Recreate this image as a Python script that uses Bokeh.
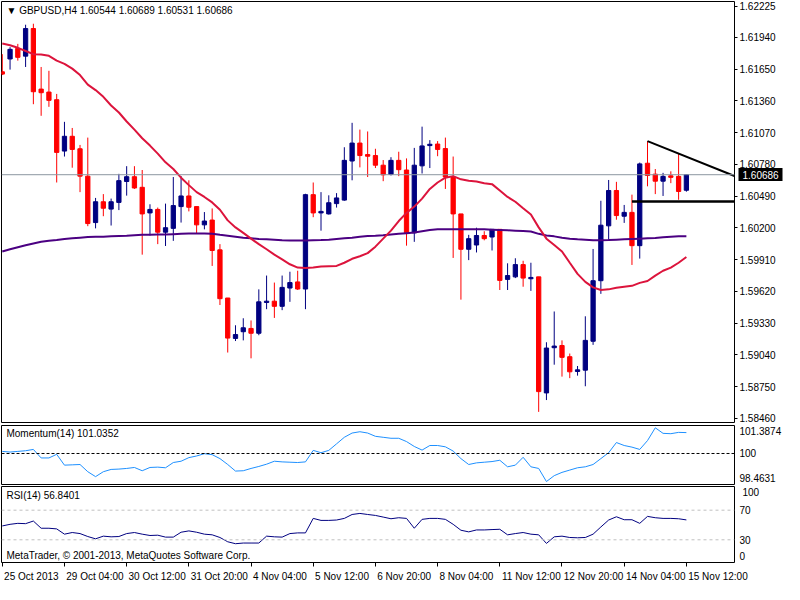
from bokeh.plotting import figure
from bokeh.layouts import column
from bokeh.models import (Range1d, FixedTicker, Label, Span, ColumnDataSource, NumeralTickFormatter,
                          LinearAxis, AllLabels)
from bokeh.embed import file_html
from bokeh.resources import INLINE

# ---------------- data (GBPUSD H4) ----------------
bar_index = list(range(89))
open_ = [1.61626, 1.61743, 1.61840, 1.61769, 1.62021, 1.61468, 1.61441, 1.61371, 1.60902, 1.61037,
         1.60923, 1.60673, 1.60249, 1.60439, 1.60372, 1.60433, 1.60624, 1.60668, 1.60571, 1.60337,
         1.60369, 1.60161, 1.60196, 1.60395, 1.60492, 1.60395, 1.60228, 1.60272, 1.60000, 1.59560,
         1.59191, 1.59252, 1.59282, 1.59238, 1.59519, 1.59531, 1.59484, 1.59651, 1.59707, 1.59642,
         1.60504, 1.60337, 1.60328, 1.60422, 1.60454, 1.60811, 1.60975, 1.60870, 1.60861, 1.60773,
         1.60688, 1.60817, 1.60729, 1.60155, 1.60767, 1.60952, 1.60966, 1.60925, 1.60665, 1.60328,
         1.60005, 1.60044, 1.60131, 1.60117, 1.60187, 1.59730, 1.59753, 1.59865, 1.59736, 1.59753,
         1.58693, 1.59106, 1.59126, 1.59024, 1.58889, 1.58901, 1.59165, 1.59718, 1.60219, 1.60542,
         1.60307, 1.60342, 1.60038, 1.60791, 1.60691, 1.60627, 1.60676, 1.60671, 1.60544]
high = [1.61787, 1.61851, 1.61881, 1.62056, 1.62065, 1.61670, 1.61635, 1.61424, 1.61169, 1.61113,
        1.60958, 1.61025, 1.60474, 1.60509, 1.60468, 1.60694, 1.60764, 1.60764, 1.60729, 1.60416,
        1.60386, 1.60422, 1.60665, 1.60673, 1.60635, 1.60395, 1.60345, 1.60378, 1.60052, 1.59560,
        1.59311, 1.59375, 1.59355, 1.59639, 1.59765, 1.59701, 1.59765, 1.59800, 1.59809, 1.60512,
        1.60615, 1.60527, 1.60498, 1.60518, 1.60937, 1.61160, 1.61098, 1.61081, 1.60923, 1.60820,
        1.60846, 1.60896, 1.60835, 1.60931, 1.61125, 1.61002, 1.60993, 1.61025, 1.60852, 1.60328,
        1.60137, 1.60202, 1.60170, 1.60187, 1.60187, 1.59877, 1.59923, 1.59900, 1.59882, 1.59753,
        1.59156, 1.59437, 1.59173, 1.59053, 1.58939, 1.59393, 1.60008, 1.60448, 1.60638, 1.60621,
        1.60410, 1.60504, 1.60797, 1.60993, 1.60738, 1.60703, 1.60717, 1.60879, 1.60689]
low = [1.61596, 1.61646, 1.61728, 1.61670, 1.61330, 1.61224, 1.61306, 1.60615, 1.60852, 1.60750,
       1.60527, 1.60216, 1.60196, 1.60307, 1.60222, 1.60363, 1.60495, 1.60556, 1.59956, 1.60131,
       1.60052, 1.60035, 1.60082, 1.60249, 1.60351, 1.60152, 1.60187, 1.59853, 1.59496, 1.59062,
       1.59167, 1.59173, 1.59009, 1.59220, 1.59458, 1.59378, 1.59449, 1.59525, 1.59633, 1.59458,
       1.60298, 1.60175, 1.60322, 1.60386, 1.60448, 1.60635, 1.60753, 1.60665, 1.60747, 1.60627,
       1.60679, 1.60673, 1.60038, 1.60073, 1.60697, 1.60747, 1.60855, 1.60556, 1.59926, 1.59545,
       1.59906, 1.59976, 1.60087, 1.59994, 1.59633, 1.59633, 1.59742, 1.59663, 1.59625, 1.58520,
       1.58628, 1.58951, 1.58842, 1.58828, 1.58851, 1.58754, 1.59132, 1.59598, 1.60093, 1.60275,
       1.60246, 1.59862, 1.59920, 1.60580, 1.60509, 1.60492, 1.60609, 1.60457, 1.60531]
close = [1.61605, 1.61831, 1.61758, 1.62021, 1.61444, 1.61435, 1.61365, 1.60890, 1.61037, 1.60917,
         1.60673, 1.60240, 1.60439, 1.60380, 1.60439, 1.60632, 1.60668, 1.60565, 1.60328, 1.60369,
         1.60161, 1.60202, 1.60404, 1.60492, 1.60389, 1.60228, 1.60263, 1.59994, 1.59554, 1.59194,
         1.59226, 1.59288, 1.59238, 1.59525, 1.59531, 1.59484, 1.59657, 1.59701, 1.59642, 1.60504,
         1.60337, 1.60351, 1.60430, 1.60474, 1.60817, 1.60975, 1.60861, 1.60855, 1.60773, 1.60685,
         1.60817, 1.60732, 1.60155, 1.60773, 1.60949, 1.60964, 1.60917, 1.60665, 1.60328, 1.60005,
         1.60102, 1.60131, 1.60102, 1.60187, 1.59721, 1.59765, 1.59865, 1.59742, 1.59748, 1.58705,
         1.59103, 1.59121, 1.59018, 1.58886, 1.58904, 1.59173, 1.59718, 1.60225, 1.60542, 1.60313,
         1.60342, 1.60038, 1.60785, 1.60679, 1.60627, 1.60671, 1.60662, 1.60533, 1.60686]
ma_fast = [1.61884, 1.61869, 1.61845, 1.61816, 1.61787, 1.61784, 1.61772, 1.61728, 1.61699, 1.61655,
           1.61596, 1.61509, 1.61459, 1.61397, 1.61318, 1.61254, 1.61172, 1.61098, 1.61019, 1.60952,
           1.60879, 1.60799, 1.60738, 1.60659, 1.60591, 1.60527, 1.60483, 1.60433, 1.60366, 1.60269,
           1.60205, 1.60155, 1.60102, 1.60052, 1.60005, 1.59956, 1.59912, 1.59868, 1.59838, 1.59835,
           1.59838, 1.59847, 1.59850, 1.59853, 1.59882, 1.59918, 1.59941, 1.59970, 1.60029, 1.60102,
           1.60175, 1.60263, 1.60337, 1.60395, 1.60468, 1.60556, 1.60615, 1.60659, 1.60673, 1.60644,
           1.60630, 1.60624, 1.60609, 1.60600, 1.60542, 1.60483, 1.60439, 1.60380, 1.60322, 1.60205,
           1.60102, 1.60044, 1.59985, 1.59882, 1.59780, 1.59707, 1.59657, 1.59633, 1.59639, 1.59654,
           1.59663, 1.59671, 1.59698, 1.59715, 1.59765, 1.59809, 1.59838, 1.59882, 1.59935]
ma_slow = [1.59985, 1.60005, 1.60023, 1.60041, 1.60058, 1.60073, 1.60082, 1.60090, 1.60099, 1.60105,
           1.60111, 1.60117, 1.60120, 1.60120, 1.60123, 1.60126, 1.60129, 1.60134, 1.60137, 1.60137,
           1.60140, 1.60140, 1.60143, 1.60146, 1.60149, 1.60149, 1.60149, 1.60146, 1.60137, 1.60129,
           1.60120, 1.60111, 1.60105, 1.60099, 1.60096, 1.60093, 1.60088, 1.60085, 1.60085, 1.60085,
           1.60088, 1.60090, 1.60093, 1.60099, 1.60105, 1.60111, 1.60120, 1.60126, 1.60129, 1.60134,
           1.60140, 1.60146, 1.60152, 1.60158, 1.60170, 1.60181, 1.60187, 1.60187, 1.60187, 1.60187,
           1.60187, 1.60187, 1.60187, 1.60184, 1.60181, 1.60178, 1.60175, 1.60172, 1.60167, 1.60146,
           1.60131, 1.60123, 1.60111, 1.60102, 1.60096, 1.60093, 1.60088, 1.60088, 1.60090, 1.60093,
           1.60096, 1.60099, 1.60102, 1.60105, 1.60108, 1.60114, 1.60120, 1.60123, 1.60123]
momentum = [100.104, 100.072, 100.104, 100.136, 100.201, 99.779, 99.779, 99.958, 99.422, 99.438,
            99.454, 99.097, 98.853, 99.097, 99.210, 99.227, 99.259, 99.308, 99.145, 99.308,
            99.324, 99.292, 99.552, 99.617, 99.795, 99.877, 99.990, 99.942, 99.747, 99.454,
            99.129, 99.145, 99.259, 99.357, 99.470, 99.617, 99.584, 99.568, 99.552, 99.584,
            100.153, 100.039, 100.153, 100.478, 100.803, 101.014, 101.079, 101.014, 100.851, 100.803,
            100.754, 100.754, 100.591, 100.348, 100.169, 100.396, 100.396, 100.331, 100.120, 99.747,
            99.454, 99.535, 99.568, 99.600, 99.665, 99.340, 99.422, 99.812, 99.340, 99.259,
            98.609, 98.902, 99.064, 99.178, 99.292, 99.340, 99.454, 99.747, 100.039, 100.543,
            100.396, 100.315, 100.201, 100.640, 101.274, 100.998, 100.981, 101.046, 101.0352]
rsi = [48.7, 50.9, 52.2, 51.8, 55.3, 45.6, 45.6, 44.7, 37.6, 39.8,
       38.4, 34.4, 31.3, 34.9, 34.0, 34.4, 38.4, 39.8, 37.6, 35.8,
       36.2, 33.6, 33.6, 40.2, 42.0, 40.2, 37.6, 36.7, 33.1, 27.3,
       24.7, 25.6, 25.6, 25.6, 34.9, 34.0, 33.6, 38.4, 39.3, 39.3,
       58.9, 56.2, 56.2, 56.7, 58.9, 64.2, 65.6, 64.2, 62.9, 60.7,
       58.4, 59.8, 58.9, 45.6, 57.6, 58.9, 58.9, 57.6, 50.9, 42.9,
       40.7, 43.3, 43.3, 43.8, 44.2, 36.7, 38.4, 39.8, 37.6, 36.7,
       25.1, 34.0, 34.9, 33.1, 32.7, 33.1, 37.6, 47.3, 56.7, 61.1,
       57.1, 57.1, 52.2, 61.6, 59.8, 58.9, 58.9, 58.4, 56.8401]

price_ticks = [1.62225, 1.61940, 1.61650, 1.61360, 1.61070, 1.60780, 1.60490, 1.60200,
               1.59910, 1.59620, 1.59330, 1.59040, 1.58750, 1.58460]
time_ticks = [0, 8, 16, 24, 32, 40, 48, 56, 64, 72, 80, 88]
time_labels = ["25 Oct 2013", "29 Oct 04:00", "30 Oct 12:00", "31 Oct 20:00", "4 Nov 04:00",
               "5 Nov 12:00", "6 Nov 20:00", "8 Nov 04:00", "11 Nov 12:00", "12 Nov 20:00",
               "14 Nov 04:00", "15 Nov 12:00"]
# drawn objects: descending trend line and horizontal support
trend_x = [83, 94.19]
trend_y = [1.60993, 1.60674]
support_x = [81, 94.19]
support_y = [1.60442, 1.60442]
mom_range = (98.4631, 101.3874)
rsi_levels = [30, 70]
rsi_bounds = (0, 100)

# ---------------- layout ----------------
FONT = "Liberation Sans"
FSIZE = 10
FS = "%dpx" % FSIZE
W = 784
RB = 46
X0, X1 = -0.1, 94.19
FW = W - 1 - RB
xr = Range1d(X0, X1)
dxpx = (X1 - X0) / FW

BULL = "#000080"
BEAR = "#FF0000"

# Arial-like advance widths (per 1000 em) used to left-align the time labels
CHAR_W = {" ": 278, ":": 278, ".": 278, "O": 778, "c": 500, "t": 278, "N": 722, "o": 556, "v": 500}


def text_px(s):
    return sum(CHAR_W.get(ch, 556) for ch in s) / 1000.0 * FSIZE


def base_fig(height, yr, top, bottom, xaxis=False):
    p = figure(width=W, height=height, x_range=xr, y_range=yr, output_backend="svg",
               toolbar_location=None, x_axis_location="below" if xaxis else None,
               y_axis_location="right", min_border_left=1, min_border_right=RB,
               min_border_top=top, min_border_bottom=bottom)
    p.background_fill_color = "white"
    p.border_fill_color = "white"
    p.outline_line_color = "black"
    p.outline_line_width = 1
    p.xgrid.grid_line_color = None
    p.ygrid.grid_line_color = None
    p.yaxis.axis_line_color = None
    p.yaxis.minor_tick_line_color = None
    p.yaxis.major_label_text_font = FONT
    p.yaxis.major_label_text_font_size = FS
    p.yaxis.major_label_text_color = "black"
    p.yaxis.major_label_policy = AllLabels()
    return p


def overlay_axis(tick, text, color, first_axis_w, lead, tick_in=0, tick_out=0, tick_w=1):
    """Extra right axis carrying one label, pulled back so it sits next to the frame."""
    ax = LinearAxis(ticker=FixedTicker(ticks=[tick]))
    ax.major_label_overrides = {tick: text}
    ax.axis_line_color = None
    ax.minor_tick_line_color = None
    ax.minor_tick_in = 0
    ax.minor_tick_out = 0
    ax.major_tick_in = tick_in
    ax.major_tick_out = tick_out
    ax.major_tick_line_width = tick_w
    ax.major_tick_line_color = "black" if tick_in or tick_out else None
    ax.major_label_standoff = -int(round(first_axis_w)) + lead - tick_out
    ax.major_label_text_color = color
    ax.major_label_text_font = FONT
    ax.major_label_text_font_size = FS
    ax.major_label_policy = AllLabels()
    return ax


# ---- main price panel
H1 = 424
yr1 = Range1d(1.58423, 1.62268)
p1 = base_fig(H1, yr1, 1, 2)
fh1 = H1 - 3
dypx1 = (yr1.end - yr1.start) / fh1
p1.yaxis.ticker = FixedTicker(ticks=price_ticks)
p1.yaxis.formatter = NumeralTickFormatter(format="0.00000")
p1.yaxis.major_tick_out = 3
p1.yaxis.major_tick_in = 0
p1.yaxis.major_tick_line_color = "black"
p1.yaxis.major_label_standoff = 2

colors = [BULL if c >= o else BEAR for o, c in zip(open_, close)]
src = ColumnDataSource(dict(x=bar_index, o=open_, h=high, l=low, c=close,
                            top=[max(o, c) for o, c in zip(open_, close)],
                            bot=[min(o, c) for o, c in zip(open_, close)],
                            col=colors))
p1.add_layout(Span(location=close[-1], dimension="width", line_color="#8C96A0", line_width=1))
p1.segment(x0="x", y0="l", x1="x", y1="h", line_color="col", line_width=1, source=src)
p1.vbar(x="x", width=0.55, top="top", bottom="bot", fill_color="col", line_color="col",
        line_width=1, source=src)
p1.line(bar_index, ma_slow, line_color="#4B0082", line_width=2)
p1.line(bar_index, ma_fast, line_color="#DC143C", line_width=2)
p1.line(trend_x, trend_y, line_color="black", line_width=2)
p1.line(support_x, support_y, line_color="black", line_width=2.5)

p1.add_layout(Label(x=X0 + 5 * dxpx, y=yr1.end - 9 * dypx1,
                    text="\u25BC GBPUSD,H4  1.60544 1.60689 1.60531 1.60686",
                    text_font=FONT, text_font_size=FS, text_color="black",
                    text_baseline="middle", text_align="left"))

# current-price marker: a thick inward tick on an extra axis forms the black box,
# its white label is pulled back over it
A_W = 3 + 2 + text_px("1.62225")
p1.add_layout(overlay_axis(close[-1], "%.5f" % close[-1], "white", A_W, 5,
                           tick_in=int(round(A_W)) - 1, tick_out=4, tick_w=13), "right")

# ---- momentum panel
H2 = 61
yr2 = Range1d(*mom_range)
p2 = base_fig(H2, yr2, 1, 1)
fh2 = H2 - 2
dypx2 = (yr2.end - yr2.start) / fh2
# MetaTrader prints the window max/min just inside the window edges
mom_ticks = [round(mom_range[0] + 6 * dypx2, 4), 100, round(mom_range[1] - 5.5 * dypx2, 4)]
p2.yaxis.ticker = FixedTicker(ticks=mom_ticks)
p2.yaxis.major_label_overrides = {mom_ticks[2]: "%.4f" % mom_range[1], 100: "100",
                                  mom_ticks[0]: "%.4f" % mom_range[0]}
p2.yaxis.major_tick_out = 0
p2.yaxis.major_tick_in = 0
p2.yaxis.major_label_standoff = 5
p2.add_layout(Span(location=100, dimension="width", line_color="black", line_width=1,
                   line_dash="3 2"))
p2.line(bar_index, momentum, line_color="#1E90FF", line_width=1)
p2.add_layout(Label(x=X0 + 5 * dxpx, y=yr2.end - 8 * dypx2, text="Momentum(14) 101.0352",
                    text_font=FONT, text_font_size=FS, text_color="black",
                    text_baseline="middle", text_align="left"))

# ---- RSI panel
H3 = 584 - H1 - H2
XB = 22
yr3 = Range1d(-0.7, 102)
p3 = base_fig(H3, yr3, 1, XB, xaxis=True)
fh3 = H3 - 1 - XB
dypx3 = (yr3.end - yr3.start) / fh3
rsi_lo = round(yr3.start + 6.5 * dypx3, 1)
rsi_hi = round(yr3.end - 6 * dypx3, 1)
rsi_ticks = [rsi_lo, rsi_levels[0], rsi_levels[1]]
p3.yaxis.ticker = FixedTicker(ticks=rsi_ticks)
p3.yaxis.major_label_overrides = {rsi_lo: "%d" % rsi_bounds[0], rsi_levels[0]: "%d" % rsi_levels[0],
                                  rsi_levels[1]: "%d" % rsi_levels[1]}
p3.yaxis.major_tick_out = 0
p3.yaxis.major_tick_in = 0
p3.yaxis.major_label_standoff = 5
R_W = 5 + text_px("70")
p3.add_layout(overlay_axis(rsi_hi, "%d" % rsi_bounds[1], "black", R_W, 5), "right")
for lv in rsi_levels:
    p3.add_layout(Span(location=lv, dimension="width", line_color="#C0C0C0", line_width=1,
                       line_dash="3 3"))
p3.line(bar_index, rsi, line_color="#000080", line_width=1)
p3.add_layout(Label(x=X0 + 5 * dxpx, y=yr3.end - 9 * dypx3, text="RSI(14) 56.8401",
                    text_font=FONT, text_font_size=FS, text_color="black",
                    text_baseline="middle", text_align="left"))
p3.add_layout(Label(x=X0 + 5 * dxpx, y=yr3.start + 7 * dypx3,
                    text="MetaTrader, \u00A9 2001-2013, MetaQuotes Software Corp.",
                    text_font=FONT, text_font_size=FS, text_color="black",
                    text_baseline="middle", text_align="left"))
# time labels start at their bar (MetaTrader style): label anchors shifted by half their width
label_pos = [round(t + (text_px(s) / 2 + 2) * dxpx, 3) for t, s in zip(time_ticks, time_labels)]
p3.xaxis.ticker = FixedTicker(ticks=label_pos, minor_ticks=time_ticks)
p3.xaxis.major_label_overrides = {pos: lab for pos, lab in zip(label_pos, time_labels)}
p3.xaxis.major_label_policy = AllLabels()
p3.xaxis.major_label_text_font = FONT
p3.xaxis.major_label_text_font_size = FS
p3.xaxis.major_label_text_color = "black"
p3.xaxis.major_label_standoff = 4
p3.xaxis.major_tick_out = 0
p3.xaxis.major_tick_in = 0
p3.xaxis.minor_tick_out = 4
p3.xaxis.minor_tick_in = 0
p3.xaxis.minor_tick_line_color = "black"
p3.xaxis.axis_line_color = None

layout = column(p1, p2, p3, spacing=0)
open("out.html", "w").write(file_html(layout, INLINE))
